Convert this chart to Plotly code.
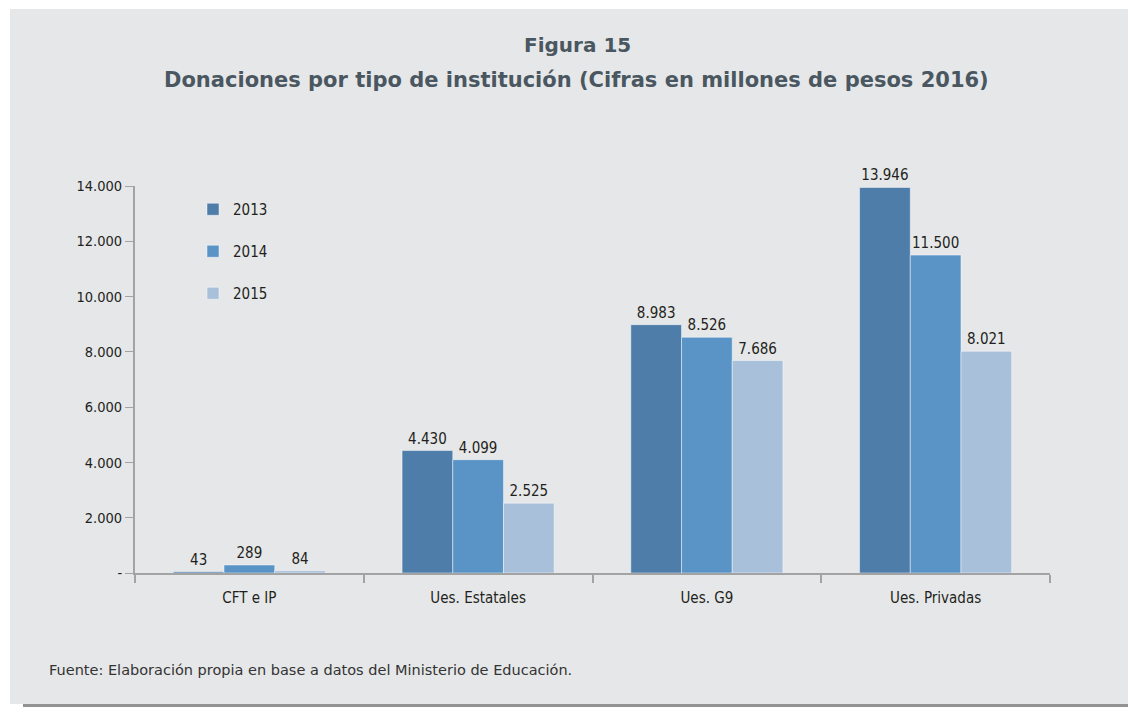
import plotly.graph_objects as go

categories = ["CFT e IP", "Ues. Estatales", "Ues. G9", "Ues. Privadas"]
years = ["2013", "2014", "2015"]
v2013 = [43, 4430, 8983, 13946]
v2014 = [289, 4099, 8526, 11500]
v2015 = [84, 2525, 7686, 8021]
ytick_vals = [0, 2000, 4000, 6000, 8000, 10000, 12000, 14000]
ytick_text = ["-", "2.000", "4.000", "6.000", "8.000", "10.000", "12.000", "14.000"]

colors = ["#4E7DAA", "#5A94C7", "#A9C0DA"]
series = [v2013, v2014, v2015]

OFF = 8  # page body margin
W, H = 1136 - OFF, 707 - OFF
L, R, T, B = 135, 1050, 186, 573


def px(x):
    return (x - L) / (R - L)


def py(y):
    return (B - y) / (B - T)


def fmt(v):
    return f"{v:,}".replace(",", ".")


NARROW = "DejaVu Sans Condensed, Liberation Sans Narrow, sans-serif"

fig = go.Figure()
for i, (yr, vals) in enumerate(zip(years, series)):
    fig.add_trace(go.Bar(
        name=yr, x=categories, y=vals,
        marker=dict(color=colors[i], line=dict(color="rgba(255,255,255,0.45)", width=1)),
        text=[fmt(v) for v in vals], textposition="outside",
        textfont=dict(family=NARROW, size=15, color="#231f20"),
        cliponaxis=False, legendgroup=yr,
    ))

fig.update_layout(
    width=W, height=H,
    margin=dict(l=L - OFF, r=(1136 - R), t=T - OFF, b=(707 - B), pad=0),
    paper_bgcolor="white", plot_bgcolor="rgba(0,0,0,0)",
    barmode="group", bargap=0.335, bargroupgap=0,
    showlegend=True,
    legend=dict(x=px(193), y=py(193), xanchor="left", yanchor="top",
                bgcolor="rgba(0,0,0,0)", tracegroupgap=19.5,
                font=dict(family=NARROW, size=15, color="#231f20")),
    xaxis=dict(showgrid=False, showline=True, linecolor="#a3a3a3", linewidth=2,
               ticks="outside", tickson="boundaries", ticklen=8, tickcolor="#a3a3a3",
               tickwidth=2, ticklabelstandoff=10,
               tickfont=dict(family=NARROW, size=15, color="#231f20")),
    yaxis=dict(range=[0, 14000], showgrid=False, zeroline=False, showline=True,
               linecolor="#a3a3a3", linewidth=2, ticks="outside", ticklen=8,
               tickcolor="#a3a3a3", tickwidth=1,
               tickvals=ytick_vals, ticktext=ytick_text,
               tickfont=dict(family=NARROW, size=14.5, color="#231f20")),
    shapes=[
        dict(type="rect", xref="paper", yref="paper", layer="below",
             x0=px(23), x1=px(1140), y0=py(712), y1=py(25),
             fillcolor="#929292", line=dict(width=0)),
        dict(type="rect", xref="paper", yref="paper", layer="below",
             x0=px(10), x1=px(1131), y0=py(704), y1=py(9),
             fillcolor="#E6E7E9", line=dict(width=0)),
    ],
    annotations=[
        dict(text="<b>Figura 15</b>", xref="paper", yref="paper",
             x=px(577), y=py(45), showarrow=False, xanchor="center", yanchor="middle",
             font=dict(family="DejaVu Sans", size=20, color="#4a5760")),
        dict(text="<b>Donaciones por tipo de institución (Cifras en millones de pesos 2016)</b>",
             xref="paper", yref="paper",
             x=px(576), y=py(80), showarrow=False, xanchor="center", yanchor="middle",
             font=dict(family="DejaVu Sans", size=21, color="#4a5760")),
        dict(text="Fuente: Elaboración propia en base a datos del Ministerio de Educación.",
             xref="paper", yref="paper", x=px(47), y=py(670), showarrow=False,
             xanchor="left", yanchor="middle",
             font=dict(family="DejaVu Sans", size=14.5, color="#333333")),
    ],
)

fig.write_html("out.html")
